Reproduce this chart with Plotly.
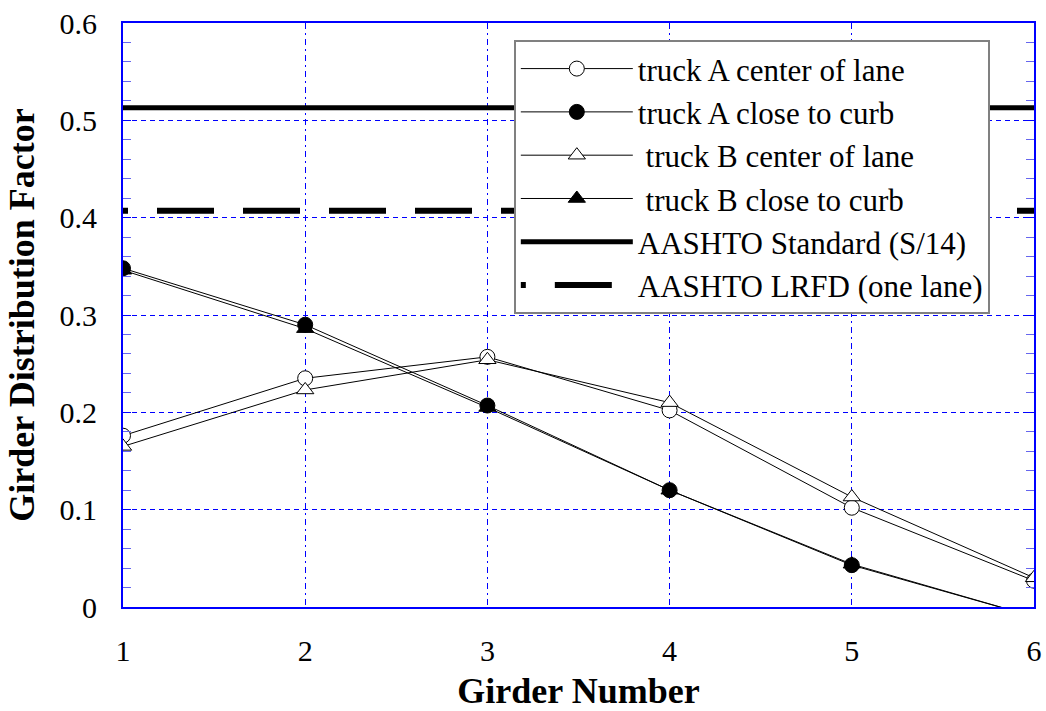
import plotly.graph_objects as go

# Girder numbers across the bridge section
girders = [1, 2, 3, 4, 5, 6]

# Distribution factors from the analysis
truck_a_center = [0.176, 0.235, 0.257, 0.202, 0.102, 0.027]
truck_a_curb = [0.348, 0.290, 0.207, 0.120, 0.043, -0.010]
truck_b_center = [0.165, 0.223, 0.254, 0.210, 0.113, 0.030]
truck_b_curb = [0.346, 0.286, 0.205, 0.120, 0.044, -0.010]

# Code-based distribution factors
aashto_standard = 0.513
aashto_lrfd = 0.407

y_ticks = [0, 0.1, 0.2, 0.3, 0.4, 0.5, 0.6]

SERIF = "Liberation Serif, Times New Roman, serif"
BLUE = "#0000ff"

fig = go.Figure()


def add_series(name, values, symbol, fill):
    fig.add_trace(go.Scatter(
        x=girders, y=values, name=name, mode="lines+markers",
        line=dict(color="black", width=1),
        marker=dict(symbol=symbol, size=15, color=fill,
                    line=dict(color="black", width=1)),
    ))


add_series("truck A center of lane", truck_a_center, "circle", "white")
add_series("truck A close to curb", truck_a_curb, "circle", "black")
add_series(" truck B center of lane", truck_b_center, "triangle-up", "white")
add_series(" truck B close to curb", truck_b_curb, "triangle-up", "black")

fig.add_trace(go.Scatter(
    x=[girders[0], girders[-1]], y=[aashto_standard] * 2,
    name="AASHTO Standard (S/14)", mode="lines",
    line=dict(color="black", width=5),
))
fig.add_trace(go.Scatter(
    x=[girders[0], girders[-1]], y=[aashto_lrfd] * 2,
    name="AASHTO LRFD (one lane)", mode="lines",
    line=dict(color="black", width=6, dash="5px,29px,57px,29px,52px,0px"),
))

fig.update_layout(
    width=1046, height=711,
    margin=dict(l=123, r=12, t=23, b=104, autoexpand=False),
    paper_bgcolor="white", plot_bgcolor="white",
    font=dict(family=SERIF, size=30, color="black"),
    showlegend=True,
    legend=dict(
        x=0.429, y=0.971, xanchor="left", yanchor="top",
        bgcolor="white", bordercolor="#808080", borderwidth=2,
        font=dict(family=SERIF, size=31, color="black"),
        itemwidth=112,
    ),
    xaxis=dict(
        range=[1, 6], tickvals=girders, ticks="", showgrid=True,
        gridcolor=BLUE, griddash="6px,4px,2px,4px", gridwidth=1,
        showline=True, linecolor=BLUE, linewidth=2, mirror=True,
        zeroline=False, ticklabelstandoff=16, automargin=False,
        tickfont=dict(family=SERIF, size=30),
        title=dict(text="<b>Girder Number</b>", font=dict(family=SERIF, size=36), standoff=20),
    ),
    yaxis=dict(
        range=[0, 0.6], tickvals=y_ticks, ticks="inside", ticklen=8, tickcolor=BLUE,
        showgrid=True, gridcolor=BLUE, griddash="5px,4px", gridwidth=1,
        showline=True, linecolor=BLUE, linewidth=2, mirror="ticks",
        zeroline=False, ticklabelstandoff=18, automargin=False,
        minor=dict(dtick=0.02, ticks="inside", ticklen=8, tickcolor="#6666ee", showgrid=False),
        tickfont=dict(family=SERIF, size=30),
        title=dict(text="<b>Girder Distribution Factor</b>", font=dict(family=SERIF, size=36), standoff=14),
    ),
)

fig.write_html("out.html")
